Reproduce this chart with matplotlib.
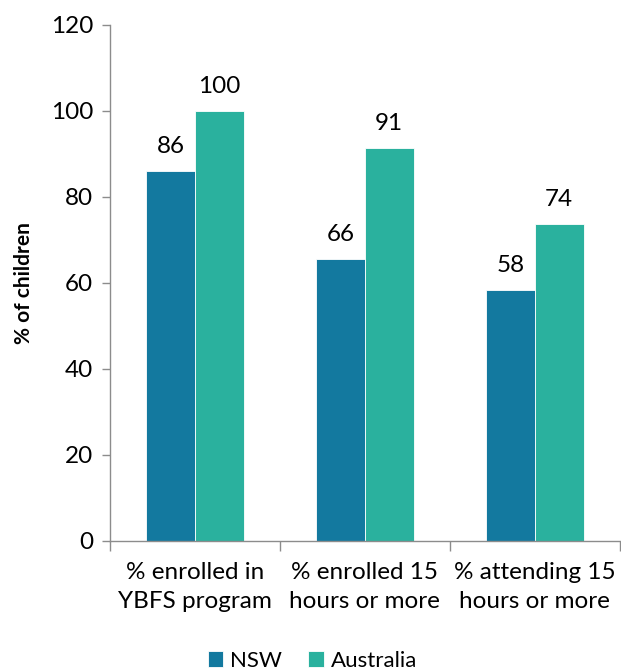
import numpy as np
import matplotlib.pyplot as plt

plt.rcParams["font.family"] = ["Lato", "DejaVu Sans"]
plt.rcParams["font.size"] = 17.5

categories = ["% enrolled in\nYBFS program", "% enrolled 15\nhours or more", "% attending 15\nhours or more"]
nsw = [86.0, 65.6, 58.3]
australia = [100.0, 91.4, 73.6]

c_nsw = "#13799f"
c_aus = "#2ab19e"
axis_col = "#8c8c8c"

fig = plt.figure(figsize=(6.21, 6.72), dpi=100)
ax = fig.add_axes([0.177, 0.195, 0.821, 0.768])

x = np.arange(len(categories))
w = 0.288
b1 = ax.bar(x - w / 2, nsw, w, color=c_nsw, edgecolor="white", linewidth=0.6, label="NSW")
b2 = ax.bar(x + w / 2, australia, w, color=c_aus, edgecolor="white", linewidth=0.6, label="Australia")

for bars, vals in ((b1, nsw), (b2, australia)):
    for rect, v in zip(bars, vals):
        ax.text(rect.get_x() + rect.get_width() / 2, v + 3.3, "%.0f" % v,
                ha="center", va="bottom")

ax.set_xlim(-0.5, 2.5)
ax.set_ylim(0, 120)
ax.set_yticks(range(0, 121, 20))
ax.set_xticks(x)
ax.set_xticklabels(categories, linespacing=1.5)
ax.set_xticks(np.arange(-0.5, 2.6, 1), minor=True)
ax.tick_params(axis="x", which="major", length=0, pad=15)
ax.tick_params(axis="x", which="minor", length=7, width=1, color=axis_col, direction="out")
ax.tick_params(axis="y", length=6, width=1, color=axis_col, direction="out", pad=6)

for s in ("top", "right"):
    ax.spines[s].set_visible(False)
for s in ("left", "bottom"):
    ax.spines[s].set_color(axis_col)
    ax.spines[s].set_linewidth(1)

ax.set_ylabel("% of children", fontweight="bold", fontsize=15, labelpad=12)

fig.legend(handles=[b1, b2], loc="lower center", bbox_to_anchor=(0.503, -0.028),
           ncol=2, frameon=False, handlelength=0.7, handleheight=0.7,
           handletextpad=0.3, columnspacing=1.2, fontsize=16)

fig.savefig("out.png", dpi=100)
